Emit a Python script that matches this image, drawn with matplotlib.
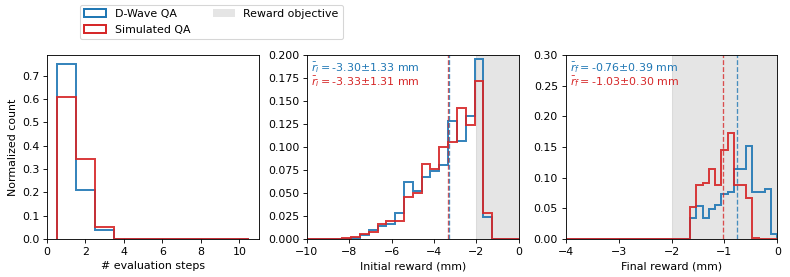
import numpy as np
import matplotlib
matplotlib.use("Agg")
import matplotlib.pyplot as plt
from matplotlib.patches import Patch

# evaluation steps histogram (normalized counts per step 1..10)
steps = np.arange(1, 11)
steps_dwave = [0.75, 0.21, 0.04, 0, 0, 0, 0, 0, 0, 0]
steps_sim = [0.607, 0.342, 0.053, 0, 0, 0, 0, 0, 0, 0]

# initial reward histogram, 24 bins over [-10, 0]
init_edges = np.linspace(-10, 0, 25)
init_dwave = [0, 0, 0, 0, 0, 0.0015, 0.0045, 0.0098, 0.0142, 0.016, 0.028, 0.062,
              0.052, 0.068, 0.0745, 0.080, 0.128, 0.1065, 0.134, 0.196, 0.0236, 0, 0, 0]
init_sim = [0, 0, 0, 0, 0.0015, 0.0025, 0.0055, 0.0073, 0.016, 0.020, 0.020, 0.046,
            0.050, 0.082, 0.076, 0.100, 0.105, 0.142, 0.124, 0.172, 0.028, 0, 0, 0]

# final reward histogram, 34 bins over [-4, 0]
final_edges = np.linspace(-4, 0, 35)
final_dwave = [0] * 20 + [0.034, 0.054, 0.035, 0.0486, 0.0556, 0.073, 0.0764,
                          0.114, 0.114, 0.152, 0.0774, 0.0774, 0.081, 0.009]
final_sim = [0] * 20 + [0.052, 0.088, 0.092, 0.114, 0.088, 0.1445, 0.173,
                        0.088, 0.088, 0.067, 0.002, 0, 0, 0]

init_mean = {"dwave": (-3.30, 1.33), "sim": (-3.33, 1.31)}
final_mean = {"dwave": (-0.76, 0.39), "sim": (-1.03, 0.30)}

blue = "#1f77b4"
red = "#d62728"
lw = 1.8

fig = plt.figure(figsize=(10, 277 / 79), dpi=79)
ax1 = fig.add_axes([0.0595, 0.137, 0.268, 0.664])
ax2 = fig.add_axes([0.3886, 0.137, 0.268, 0.664])
ax3 = fig.add_axes([0.716, 0.137, 0.268, 0.664])

step_edges = np.arange(0.5, 11.5, 1)
ax1.hist(steps, bins=step_edges, weights=steps_dwave, histtype="step", color=blue, lw=lw, alpha=0.9)
ax1.hist(steps, bins=step_edges, weights=steps_sim, histtype="step", color=red, lw=lw, alpha=0.9)
ax1.set_xlabel("# evaluation steps")
ax1.set_ylabel("Normalized count")
ax1.set_xticks([0, 2, 4, 6, 8, 10])
ax1.set_yticks(np.arange(0, 0.71, 0.1))


def reward_panel(ax, edges, dw, sim, means, sub, xlim, ylim, fmt):
    centers = 0.5 * (edges[:-1] + edges[1:])
    ax.axvspan(-2, 0, color="0.5", alpha=0.2)
    ax.hist(centers, bins=edges, weights=dw, histtype="step", color=blue, lw=lw, alpha=0.9)
    ax.hist(centers, bins=edges, weights=sim, histtype="step", color=red, lw=lw, alpha=0.9)
    ax.axvline(means["sim"][0], color=red, ls="--", lw=1.2, alpha=0.8)
    ax.axvline(means["dwave"][0], color=blue, ls="--", lw=1.2, alpha=0.8)
    ax.text(0.02, 0.975, r"$\bar{r}_%s = $" % sub + "%.2f±%.2f mm" % means["dwave"],
            transform=ax.transAxes, color=blue, va="top", ha="left")
    ax.text(0.02, 0.895, r"$\bar{r}_%s = $" % sub + "%.2f±%.2f mm" % means["sim"],
            transform=ax.transAxes, color=red, va="top", ha="left")
    ax.set_xlim(*xlim)
    ax.set_ylim(*ylim)
    ax.yaxis.set_major_formatter(plt.FormatStrFormatter(fmt))


reward_panel(ax2, init_edges, init_dwave, init_sim, init_mean, "i", (-10, 0), (0, 0.2), "%.3f")
ax2.set_yticks(np.arange(0, 0.201, 0.025))
ax2.set_xlabel("Initial reward (mm)")

reward_panel(ax3, final_edges, final_dwave, final_sim, final_mean, "f", (-4, 0), (0, 0.3), "%.2f")
ax3.set_yticks(np.arange(0, 0.301, 0.05))
ax3.set_xlabel("Final reward (mm)")

handles = [Patch(facecolor="none", edgecolor=blue, lw=lw),
           Patch(facecolor="none", edgecolor=red, lw=lw),
           Patch(facecolor="0.5", alpha=0.2)]
labels = ["D-Wave QA", "Simulated QA", "Reward objective"]
fig.legend(handles, labels, ncol=2, loc="upper left", borderaxespad=0,
           bbox_to_anchor=(80 / 790, 1 - 4.7 / 277))

fig.savefig("out.png", dpi=79)
